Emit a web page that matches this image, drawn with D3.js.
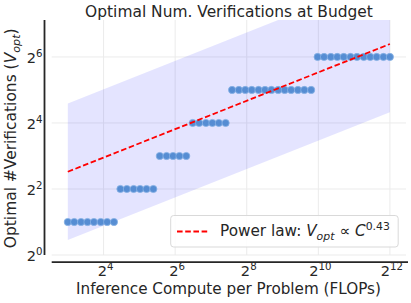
<!DOCTYPE html>
<html>
<head>
<meta charset="utf-8">
<script src="https://cdn.jsdelivr.net/npm/d3@7"></script>
<style>
  html, body { margin: 0; padding: 0; background: #fff; }
  svg { display: block; font-family: "DejaVu Sans", sans-serif; }
</style>
</head>
<body>
<svg id="chart" width="411" height="303"></svg>
<script>
// ---- data ----
const computeLog2 = [3.00,3.18,3.37,3.55,3.73,3.92,4.10,4.29,4.47,4.65,4.84,5.02,5.20,5.39,5.57,5.76,5.94,6.12,6.31,6.49,6.67,6.86,7.04,7.22,7.41,7.59,7.78,7.96,8.14,8.33,8.51,8.69,8.88,9.06,9.24,9.43,9.61,9.80,9.98,10.16,10.35,10.53,10.71,10.90,11.08,11.27,11.45,11.63,11.82,12.00];
const vOpt = [2,2,2,2,2,2,2,2, 4,4,4,4,4,4, 8,8,8,8,8, 16,16,16,16,16,16, 32,32,32,32,32,32,32,32,32,32,32,32,32, 64,64,64,64,64,64,64,64,64,64,64,64];
const fitCoef = 2.35;       // V = fitCoef * C^fitExp
const fitExp = 0.43;
const bandFactor = 4.2;     // shaded band: fit * / bandFactor
const xTickExps = [4, 6, 8, 10, 12];
const yTickExps = [0, 2, 4, 6];
const titleText = "Optimal Num. Verifications at Budget";
const xLabel = "Inference Compute per Problem (FLOPs)";

(function () {
const compute = computeLog2.map(e => Math.pow(2, e));
const points = compute.map((c, i) => ({c, v: vOpt[i]}));

// ---- layout ----
const svg = d3.select("#chart");
const pL = 51.7, pR = 406, pT = 20, pB = 255;
const x = d3.scaleLog().base(2).domain([Math.pow(2, 2.55), Math.pow(2, 12.45)]).range([pL, pR]);
const y = d3.scaleLog().base(2).domain([1, Math.pow(2, 7.12)]).range([pB, pT]);
const textColor = "#262626";

function fitWidth(sel, target) {
  const fs = parseFloat(sel.attr("font-size"));
  const w = sel.node().getBBox().width;
  if (w > 0) {
    const k = target / w;
    sel.attr("font-size", fs * k);
    sel.selectAll("tspan").each(function () {
      const t = d3.select(this);
      if (t.attr("font-size")) t.attr("font-size", parseFloat(t.attr("font-size")) * k);
      if (t.attr("dy")) t.attr("dy", parseFloat(t.attr("dy")) * k);
    });
  }
}

svg.append("defs").append("clipPath").attr("id", "clip")
  .append("rect").attr("x", pL).attr("y", pT).attr("width", pR - pL).attr("height", pB - pT);

// grid
const grid = svg.append("g");
grid.selectAll("line.gx").data(xTickExps).join("line")
  .attr("x1", d => x(Math.pow(2, d))).attr("x2", d => x(Math.pow(2, d)))
  .attr("y1", pT).attr("y2", pB)
  .attr("stroke", "#ebebeb").attr("stroke-width", 1);
grid.selectAll("line.gy").data(yTickExps).join("line")
  .attr("y1", d => y(Math.pow(2, d))).attr("y2", d => y(Math.pow(2, d)))
  .attr("x1", pL).attr("x2", pR)
  .attr("stroke", "#ebebeb").attr("stroke-width", 1);

const plot = svg.append("g").attr("clip-path", "url(#clip)");
const cMin = compute[0], cMax = compute[compute.length - 1];
const fitC = [cMin, cMax];
const fit = c => fitCoef * Math.pow(c, fitExp);

// band
const area = d3.area()
  .x(d => x(d))
  .y0(d => y(fit(d) / bandFactor))
  .y1(d => y(fit(d) * bandFactor));
plot.append("path").datum(fitC).attr("d", area)
  .attr("fill", "rgb(0,0,255)").attr("fill-opacity", 0.105);

// points
plot.selectAll("circle").data(points).join("circle")
  .attr("cx", d => x(d.c)).attr("cy", d => y(d.v)).attr("r", 3.6)
  .attr("fill", "#4a86cf").attr("fill-opacity", 0.92)
  .attr("stroke", "#86b1e4").attr("stroke-width", 0.8);

// fit line
const line = d3.line().x(d => x(d)).y(d => y(fit(d)));
plot.append("path").datum(fitC).attr("d", line)
  .attr("fill", "none").attr("stroke", "#ff0000").attr("stroke-width", 1.8)
  .attr("stroke-dasharray", "5.6,2.6");

// spines (offset)
svg.append("line").attr("x1", 44.5).attr("x2", 44.5).attr("y1", pT).attr("y2", pB)
  .attr("stroke", "#262626").attr("stroke-width", 1.8);
svg.append("line").attr("x1", pL).attr("x2", pR + 2).attr("y1", 262.2).attr("y2", 262.2)
  .attr("stroke", "#262626").attr("stroke-width", 1.8);

// tick labels
function powLabel(sel, exp) {
  sel.append("tspan").text("2");
  sel.append("tspan").attr("dy", -6.3).attr("font-size", 10.2).text(exp);
}
xTickExps.forEach(e => {
  const t = svg.append("text").attr("x", x(Math.pow(2, e)) + 2).attr("y", 276.3)
    .attr("text-anchor", "middle").attr("font-size", 14.6).attr("fill", textColor);
  powLabel(t, e);
});
yTickExps.forEach(e => {
  const t = svg.append("text").attr("x", 42.5).attr("y", y(Math.pow(2, e)) + 6)
    .attr("text-anchor", "end").attr("font-size", 14.6).attr("fill", textColor);
  powLabel(t, e);
});

// title
const tt = svg.append("text").attr("x", (85 + 373) / 2).attr("y", 17.3)
  .attr("text-anchor", "middle").attr("font-size", 15).attr("fill", textColor).text(titleText);
fitWidth(tt, 288);

// x label
const xl = svg.append("text").attr("x", (75 + 382) / 2).attr("y", 294.2)
  .attr("text-anchor", "middle").attr("font-size", 14.5).attr("fill", textColor).text(xLabel);
fitWidth(xl, 305);

// y label
const yl = svg.append("text").attr("transform", `translate(16.3,${(28.3 + 248.3) / 2}) rotate(-90)`)
  .attr("text-anchor", "middle").attr("font-size", 14.5).attr("fill", textColor);
yl.append("tspan").text("Optimal #Verifications (");
yl.append("tspan").attr("font-style", "italic").text("V");
yl.append("tspan").attr("font-style", "italic").attr("font-size", 10.5).attr("dy", 3).text("opt");
yl.append("tspan").attr("dy", -3).text(")");
fitWidth(yl, 220);

// legend
const lg = svg.append("g");
lg.append("rect").attr("x", 170.7).attr("y", 215.5).attr("width", 227.5).attr("height", 31.5)
  .attr("rx", 3).attr("fill", "#fff").attr("fill-opacity", 0.85)
  .attr("stroke", "#d9d9d9").attr("stroke-width", 1);
lg.append("line").attr("x1", 177).attr("x2", 208).attr("y1", 231.5).attr("y2", 231.5)
  .attr("stroke", "#ff0000").attr("stroke-width", 1.8).attr("stroke-dasharray", "5.6,2.6");
const lt = lg.append("text").attr("x", 220).attr("y", 236.3).attr("font-size", 14).attr("fill", textColor);
lt.append("tspan").text("Power law: ");
lt.append("tspan").attr("font-style", "italic").text("V");
lt.append("tspan").attr("font-style", "italic").attr("font-size", 10).attr("dy", 3).text("opt");
lt.append("tspan").attr("dy", -3).text(" \u221D ");
lt.append("tspan").attr("font-style", "italic").text("C");
lt.append("tspan").attr("font-size", 10).attr("dy", -6).text(fitExp.toFixed(2));
fitWidth(lt, 170);
})();
</script>
</body>
</html>
